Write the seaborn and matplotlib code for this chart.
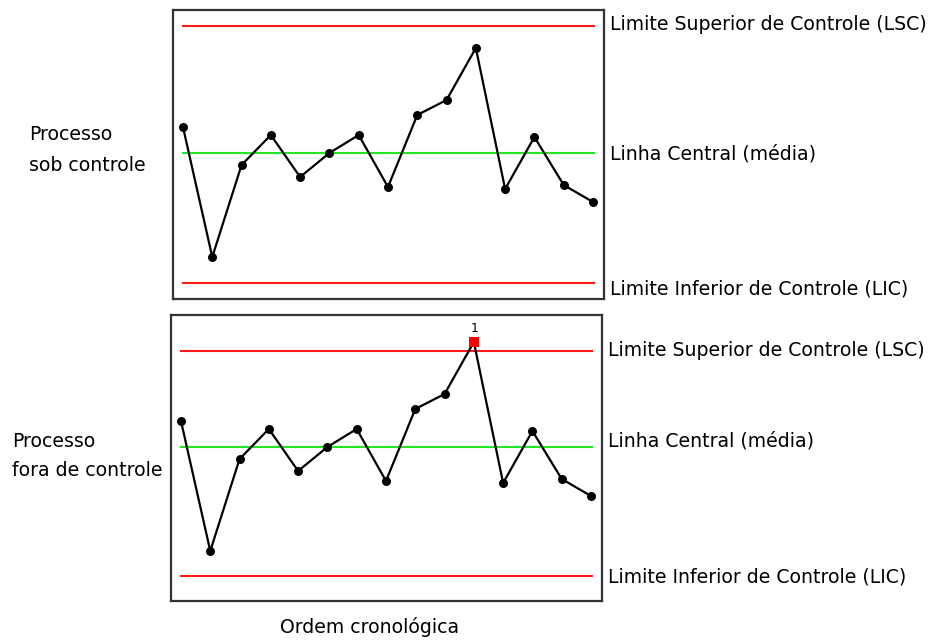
import pandas as pd
import seaborn as sns
import matplotlib.pyplot as plt
import matplotlib.transforms as mtransforms

# Dados da carta de controle (mesma série nos dois painéis)
ordem = list(range(1, 16))
medidas = [2.6, -10.4, -1.2, 1.8, -2.4, 0.0, 1.8, -3.4, 3.8, 5.3, 10.5, -3.6, 1.6, -3.2, -4.9]

# Limites de controle de cada painel: LSC, linha central, LIC
limites_sob = [12.7, 0.0, -13.0]
limites_fora = [9.6, 0.0, -12.9]

rotulos_limites = ["Limite Superior de Controle (LSC)",
                   "Linha Central (média)",
                   "Limite Inferior de Controle (LIC)"]
cores_limites = ["#ff1a1a", "#22e822", "#ff1a1a"]

# ponto fora de controle (índice na série) e seu rótulo
ponto_fora = 10
rotulo_ponto = "1"

df = pd.DataFrame({"ordem": ordem, "medida": medidas})

sns.set_style("white")
plt.rcParams["font.family"] = ["DejaVu Sans"]
plt.rcParams["text.color"] = "black"

fig = plt.figure(figsize=(9.34, 6.4), dpi=100)
ax_sob = fig.add_axes([173 / 934, 1 - 299 / 640, 431 / 934, 289 / 640])
ax_fora = fig.add_axes([171 / 934, 1 - 601 / 640, 431 / 934, 286 / 640])


def desenha(ax, limites, ylim, desloc_rotulos, destaque=False):
    for lim, cor in zip(limites, cores_limites):
        ax.hlines(lim, 0.97, 15.07, color=cor, lw=1.5, zorder=1)
    sns.lineplot(data=df, x="ordem", y="medida", ax=ax, color="black", lw=1.6, zorder=2)
    normais = df.drop(index=ponto_fora) if destaque else df
    sns.scatterplot(data=normais, x="ordem", y="medida", ax=ax, color="black",
                    s=42, edgecolor="black", linewidth=0, zorder=3)
    if destaque:
        fora = df.loc[[ponto_fora]]
        sns.scatterplot(data=fora, x="ordem", y="medida", ax=ax, color="#ff0000",
                        marker="s", s=45, edgecolor="#ff0000", linewidth=0, zorder=4)
        ax.annotate(rotulo_ponto, (fora["ordem"].iloc[0], fora["medida"].iloc[0]),
                    xytext=(1, 13), textcoords="offset pixels", ha="center",
                    va="center", fontsize=9)
    trans = mtransforms.blended_transform_factory(ax.transAxes, ax.transData)
    for lim, rot, dy in zip(limites, rotulos_limites, desloc_rotulos):
        ax.annotate(rot, (1, lim), xycoords=trans, xytext=(6, dy),
                    textcoords="offset pixels", ha="left", va="center",
                    fontsize=13.6, annotation_clip=False)
    ax.set_xlim(0.659, 15.376)
    ax.set_ylim(*ylim)
    ax.set_xticks([])
    ax.set_yticks([])
    ax.set_xlabel("")
    ax.set_ylabel("")
    for sp in ax.spines.values():
        sp.set_visible(True)
        sp.set_color("#333333")
        sp.set_linewidth(1.6)


desenha(ax_sob, limites_sob, (-14.6, 14.3), [1, -1, -6])
desenha(ax_fora, limites_fora, (-15.4, 13.2), [1, 6, -1], destaque=True)

fig.text(29 / 934, 1 - 150 / 640, "Processo\nsob controle", ha="left", va="center",
         fontsize=13.6, linespacing=1.85)
fig.text(12 / 934, 1 - 456 / 640, "Processo\nfora de controle", ha="left", va="center",
         fontsize=13.6, linespacing=1.72)
fig.text(370 / 934, 1 - 627 / 640, "Ordem cronológica", ha="center", va="center",
         fontsize=13.6)

plt.savefig("out.png", dpi=100, facecolor="white")
